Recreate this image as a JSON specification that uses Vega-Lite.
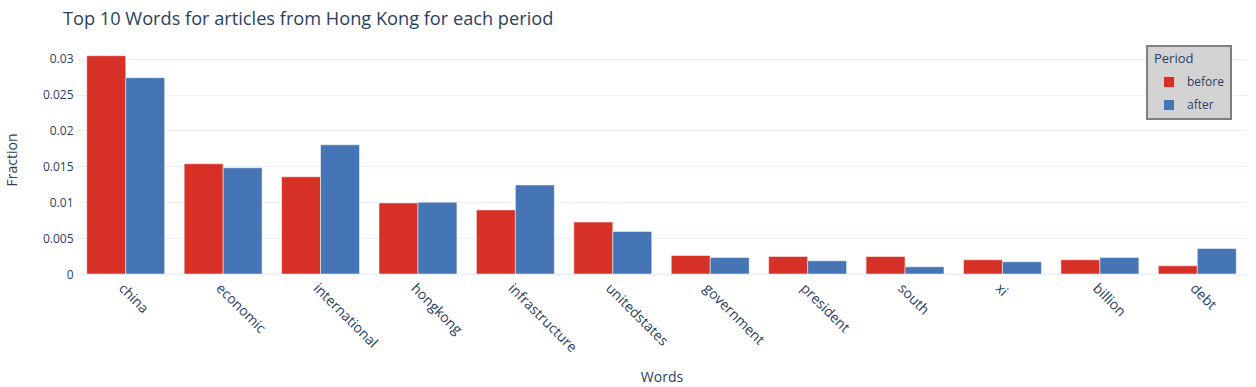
{
  "$schema": "https://vega.github.io/schema/vega-lite/v6.json",
  "autosize": "none",
  "width": 1169,
  "height": 229,
  "padding": {"left": 77, "top": 45, "right": 10, "bottom": 113},
  "background": "white",
  "config": {
    "font": "Open Sans",
    "view": {"stroke": null},
    "axis": {"labelColor": "#2a3f5f", "titleColor": "#2a3f5f", "titleFontWeight": "normal", "labelFont": "Open Sans", "titleFont": "Open Sans"},
    "legend": {"strokeWidth": 2}
  },
  "title": {
    "text": "Top 10 Words for articles from Hong Kong for each period",
    "anchor": "start",
    "frame": "group",
    "dx": -14,
    "offset": 2,
    "baseline": "alphabetic",
    "fontSize": 18.2,
    "fontWeight": "normal",
    "color": "#2a3f5f",
    "font": "Open Sans"
  },
  "data": {
    "values": [
      {"word": "china", "period": "before", "fraction": 0.0304},
      {"word": "china", "period": "after", "fraction": 0.02735},
      {"word": "economic", "period": "before", "fraction": 0.01535},
      {"word": "economic", "period": "after", "fraction": 0.0148},
      {"word": "international", "period": "before", "fraction": 0.01354},
      {"word": "international", "period": "after", "fraction": 0.018},
      {"word": "hongkong", "period": "before", "fraction": 0.0099},
      {"word": "hongkong", "period": "after", "fraction": 0.0100},
      {"word": "infrastructure", "period": "before", "fraction": 0.00893},
      {"word": "infrastructure", "period": "after", "fraction": 0.0124},
      {"word": "unitedstates", "period": "before", "fraction": 0.00723},
      {"word": "unitedstates", "period": "after", "fraction": 0.00593},
      {"word": "government", "period": "before", "fraction": 0.00258},
      {"word": "government", "period": "after", "fraction": 0.0023},
      {"word": "president", "period": "before", "fraction": 0.00244},
      {"word": "president", "period": "after", "fraction": 0.00184},
      {"word": "south", "period": "before", "fraction": 0.00244},
      {"word": "south", "period": "after", "fraction": 0.001},
      {"word": "xi", "period": "before", "fraction": 0.00198},
      {"word": "xi", "period": "after", "fraction": 0.0017},
      {"word": "billion", "period": "before", "fraction": 0.00198},
      {"word": "billion", "period": "after", "fraction": 0.0023},
      {"word": "debt", "period": "before", "fraction": 0.00114},
      {"word": "debt", "period": "after", "fraction": 0.00356}
    ]
  },
  "mark": {"type": "bar", "stroke": "white", "strokeWidth": 0.5},
  "encoding": {
    "x": {
      "field": "word",
      "type": "nominal",
      "sort": ["china", "economic", "international", "hongkong", "infrastructure", "unitedstates", "government", "president", "south", "xi", "billion", "debt"],
      "scale": {"paddingInner": 0.2, "paddingOuter": 0.1},
      "axis": {
        "title": "Words",
        "titleFontSize": 14,
        "titleY": 107,
        "titleBaseline": "alphabetic",
        "labelAngle": 45,
        "labelAlign": "left",
        "labelBaseline": "top",
        "labelFontSize": 14,
        "labelPadding": 7,
        "ticks": false,
        "domainColor": "#ebf0f8",
        "domainWidth": 2,
        "grid": false
      }
    },
    "xOffset": {
      "field": "period",
      "type": "nominal",
      "sort": ["before", "after"],
      "scale": {"paddingInner": 0, "paddingOuter": 0}
    },
    "y": {
      "field": "fraction",
      "type": "quantitative",
      "scale": {"domain": [0, 0.0319], "nice": false},
      "axis": {
        "title": "Fraction",
        "titleFontSize": 14,
        "titleX": -72,
        "titleBaseline": "top",
        "labelFontSize": 12,
        "labelPadding": 4,
        "ticks": false,
        "domain": false,
        "gridColor": "#ebf0f8",
        "gridWidth": 1,
        "values": [0, 0.005, 0.01, 0.015, 0.02, 0.025, 0.03],
        "labelExpr": "datum.value == 0 ? '0' : format(datum.value, '~g')"
      }
    },
    "color": {
      "field": "period",
      "type": "nominal",
      "scale": {"domain": ["before", "after"], "range": ["#d73027", "#4575b4"]},
      "legend": {
        "title": "Period",
        "orient": "none",
        "legendX": 1070,
        "legendY": 1,
        "fillColor": "#d3d3d3",
        "strokeColor": "#808080",
        "padding": 7,
        "titleFontSize": 13,
        "titleFontWeight": "normal",
        "titleColor": "#2a3f5f",
        "titlePadding": 10,
        "labelFontSize": 12,
        "labelColor": "#2a3f5f",
        "labelOffset": 12,
        "symbolOffset": 9,
        "symbolType": "square",
        "symbolSize": 121,
        "symbolStrokeColor": "white",
        "symbolStrokeWidth": 0.5,
        "symbolOpacity": 1,
        "rowPadding": 9
      }
    }
  }
}
